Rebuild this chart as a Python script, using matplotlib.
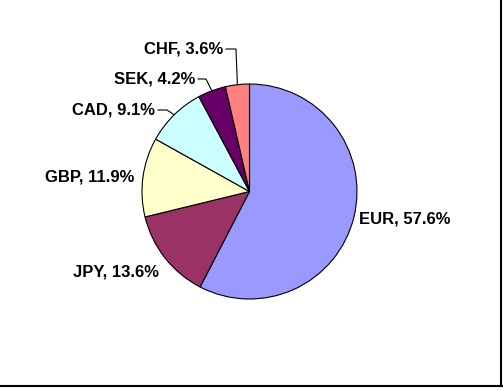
import numpy as np
from matplotlib import pyplot as plt
from matplotlib.lines import Line2D

currencies = ['EUR', 'JPY', 'GBP', 'CAD', 'SEK', 'CHF']
shares = [57.6, 13.6, 11.9, 9.1, 4.2, 3.6]
colors = ['#9999FF', '#993366', '#FFFFCC', '#CCFFFF', '#660066', '#FF8080']

W, H = 503, 390
cx, cy, R = 249.5, 191.5, 107.5   # pie centre / radius in pixels


def px(x, y):
	return ((x - cx) / R, (cy - y) / R)


fig = plt.figure(figsize=(W / 100, H / 100), dpi=100)
ax = fig.add_axes([0, 0, 1, 1])

wedges, _ = ax.pie(shares, colors=colors, startangle=90, counterclock=False,
	wedgeprops=dict(edgecolor='black', linewidth=0.8))
ax.set_xlim(-cx / R, (W - cx) / R)
ax.set_ylim(-(H - cy) / R, cy / R)
ax.axis('off')

# label anchor (pixels), alignment, and elbow x for the leader line (None = no line)
label_pos = [(359, 219, 'left', None),
	(159, 272, 'right', None),
	(134, 177, 'right', None),
	(155, 110, 'right', 167),
	(195, 79, 'right', 206),
	(223, 49, 'right', 236)]

for w, c, s, (lx, ly, ha, elbow) in zip(wedges, currencies, shares, label_pos):
	tx, ty = px(lx, ly)
	ax.text(tx, ty, c + ', ' + str(s) + '%', ha=ha, va='center',
		fontsize=12, fontweight='bold', family='Liberation Sans')
	if elbow is not None:
		mid = np.radians((w.theta1 + w.theta2) / 2)
		ex, ey = np.cos(mid), np.sin(mid)
		x0, _ = px(lx + 3, ly)
		x1, _ = px(elbow, ly)
		ax.plot([x0, x1, ex], [ty, ty, ey], color='black', lw=0.8)

fig.add_artist(Line2D([501 / W, 501 / W], [4.5 / H, 1], color='black', lw=1.5))
fig.add_artist(Line2D([0, 502 / W], [4.5 / H, 4.5 / H], color='black', lw=1.5))

fig.savefig('out.png', dpi=100)
